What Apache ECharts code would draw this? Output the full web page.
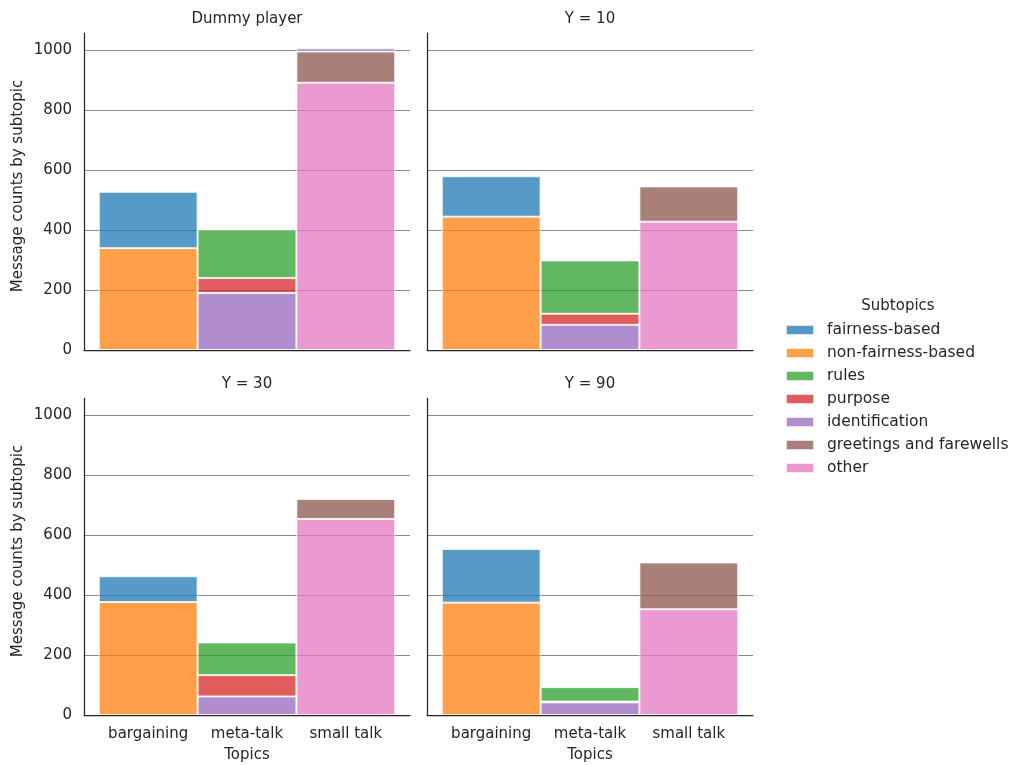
<!DOCTYPE html>
<html><head><meta charset="utf-8">
<script src="https://cdn.jsdelivr.net/npm/echarts@6/dist/echarts.min.js"></script>
<style>html,body{margin:0;padding:0;background:#fff}#c{width:1014px;height:765px}</style>
</head><body><div id="c"></div>
<script>
// ---- data ----
const categories = ['bargaining', 'meta-talk', 'small talk'];
const panelTitles = ['Dummy player', 'Y = 10', 'Y = 30', 'Y = 90'];
const subtopics = ['fairness-based', 'non-fairness-based', 'rules', 'purpose', 'identification', 'greetings and farewells', 'other'];
const yTickInterval = 200;
const yMax = 1058;
// values per panel, each [bargaining, meta-talk, small talk]
const fairnessBased    = [[188, 0, 0], [135, 0, 0], [86, 0, 0], [179, 0, 0]];
const nonFairnessBased = [[340, 0, 0], [445, 0, 0], [377, 0, 0], [375, 0, 0]];
const rules            = [[0, 162, 0], [0, 178, 0], [0, 109, 0], [0, 48, 0]];
const purpose          = [[0, 50, 0], [0, 37, 0], [0, 71, 0], [0, 3, 0]];
const identification   = [[0, 190, 11], [0, 84, 0], [0, 62, 0], [0, 42, 0]];
const greetings        = [[0, 0, 104], [0, 0, 118], [0, 0, 67], [0, 0, 156]];
const other            = [[0, 0, 892], [0, 0, 428], [0, 0, 654], [0, 0, 353]];

const colors = {
  'fairness-based': '#1f77b4', 'non-fairness-based': '#ff7f0e', 'rules': '#2ca02c',
  'purpose': '#d62728', 'identification': '#9467bd', 'greetings and farewells': '#8c564b', 'other': '#e377c2'
};
const valuesBySubtopic = {
  'fairness-based': fairnessBased, 'non-fairness-based': nonFairnessBased, 'rules': rules,
  'purpose': purpose, 'identification': identification, 'greetings and farewells': greetings, 'other': other
};
// stacking order: bottom first
const stackOrder = subtopics.slice().reverse();

// ---- layout ----
const FONT = 'DejaVu Sans';
const TXT = '#262626';
const panelLeft = [84, 427, 84, 427];
const panelTop = [33, 33, 398, 398];
const panelW = 326, panelH = 317;
const margin = panelW * 0.15 / 3.3; // matplotlib-style 5% margins around the 3 category bands

const grid = [], xAxis = [], yAxis = [], series = [], title = [];
for (let p = 0; p < 4; p++) {
  const isLeft = p % 2 === 0, isBottom = p >= 2;
  const gFrame = grid.length;
  // frame grid: spines, gridlines, y labels
  grid.push({left: panelLeft[p], top: panelTop[p], width: panelW, height: panelH, containLabel: false});
  xAxis.push({
    type: 'value', gridIndex: gFrame, min: 0, max: 1,
    axisLine: {show: true, onZero: false, lineStyle: {color: TXT, width: 1.25}},
    axisTick: {show: false}, splitLine: {show: false}, axisLabel: {show: false},
    name: isBottom ? 'Topics' : '', nameLocation: 'middle', nameGap: 33,
    nameTextStyle: {fontFamily: FONT, fontSize: 15, color: TXT}
  });
  yAxis.push({
    type: 'value', gridIndex: gFrame, min: 0, max: yMax, interval: yTickInterval,
    axisLine: {show: true, onZero: false, lineStyle: {color: TXT, width: 1.25}},
    axisTick: {show: false},
    splitLine: {show: true, showMinLine: false, showMaxLine: false, lineStyle: {color: '#8a8a8a', width: 1}},
    axisLabel: {show: isLeft, showMaxLabel: false, formatter: v => String(v),
      fontFamily: FONT, fontSize: 15, color: TXT, margin: 12},
    name: isLeft ? 'Message counts by subtopic' : '', nameLocation: 'middle', nameGap: 58,
    nameTextStyle: {fontFamily: FONT, fontSize: 15, color: TXT, padding: [0, 0, 0, 11]}
  });
  // bar grid: category bands inset by the margins
  const gBar = grid.length;
  grid.push({left: panelLeft[p] + margin, top: panelTop[p], width: panelW - 2 * margin, height: panelH, containLabel: false});
  xAxis.push({
    type: 'category', gridIndex: gBar, data: categories, boundaryGap: true,
    axisLine: {show: false}, axisTick: {show: false}, splitLine: {show: false},
    axisLabel: {show: isBottom, fontFamily: FONT, fontSize: 15, color: TXT, margin: 12, interval: 0}
  });
  yAxis.push({type: 'value', gridIndex: gBar, min: 0, max: yMax, show: false, splitLine: {show: false}});

  title.push({
    text: panelTitles[p], left: panelLeft[p] + panelW / 2, top: panelTop[p] - 21, textAlign: 'center', padding: 0,
    textStyle: {fontFamily: FONT, fontSize: 15, fontWeight: 'normal', color: TXT}
  });
  stackOrder.forEach(name => {
    const vals = valuesBySubtopic[name][p];
    series.push({
      type: 'bar', name: name, xAxisIndex: gBar, yAxisIndex: gBar, stack: 'panel' + p,
      barWidth: '100%', barCategoryGap: '0%',
      data: vals.map(v => (v > 0 ? v : '-')),
      itemStyle: {color: colors[name], opacity: 0.75, borderColor: '#ffffff', borderWidth: 1},
      emphasis: {disabled: true}
    });
  });
}
title.push({
  text: 'Subtopics', left: 898, top: 299, textAlign: 'center', padding: 0,
  textStyle: {fontFamily: FONT, fontSize: 15, fontWeight: 'normal', color: TXT}
});

const chart = echarts.init(document.getElementById('c'), null, {renderer: 'canvas'});
chart.setOption({
  animation: false,
  backgroundColor: '#ffffff',
  title: title,
  legend: {
    data: subtopics, orient: 'vertical', left: 785, top: 322, padding: 0,
    itemWidth: 28, itemHeight: 10, itemGap: 7, icon: 'rect',
    textStyle: {fontFamily: FONT, fontSize: 15.5, color: TXT, padding: [0, 0, 0, 8]}
  },
  grid: grid, xAxis: xAxis, yAxis: yAxis, series: series
});
</script></body></html>
